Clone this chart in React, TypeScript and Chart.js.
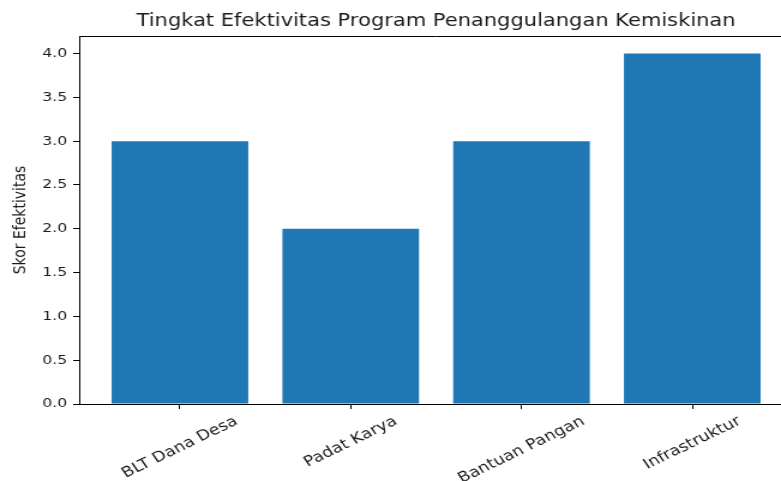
import React, { useEffect, useRef } from "react";
import { Chart, registerables } from "chart.js";

Chart.register(...registerables);

const TITLE = "Tingkat Efektivitas Program Penanggulangan Kemiskinan";
const Y_LABEL = "Skor Efektivitas";
const categories = ["BLT Dana Desa", "Padat Karya", "Bantuan Pangan", "Infrastruktur"];
const scores = [3, 2, 3, 4];
const yTicks = [0, 0.5, 1, 1.5, 2, 2.5, 3, 3.5, 4];

const INTERNAL_W = 666;
const CSS_W = 799;
const H = 481;
const TEXT = "#1a1a1a";
const FONT = "'DejaVu Sans', sans-serif";

const decorPlugin = {
  id: "decor",
  afterDraw(chart: any) {
    const { ctx, chartArea } = chart;
    const xs = chart.scales.x;
    ctx.save();
    // top and right spines
    ctx.strokeStyle = "#000";
    ctx.lineWidth = 1;
    ctx.beginPath();
    ctx.moveTo(chartArea.left, chartArea.top + 0.5);
    ctx.lineTo(chartArea.right, chartArea.top + 0.5);
    ctx.moveTo(chartArea.right - 0.5, chartArea.top);
    ctx.lineTo(chartArea.right - 0.5, chartArea.bottom);
    ctx.stroke();
    // title
    ctx.fillStyle = TEXT;
    ctx.font = `17.5px ${FONT}`;
    ctx.textAlign = "center";
    ctx.textBaseline = "alphabetic";
    ctx.fillText(TITLE, (chartArea.left + chartArea.right) / 2, 26);
    // x tick labels rotated 30deg, centered on tick
    const a = (30 * Math.PI) / 180;
    const fs = 14.5;
    ctx.font = `${fs}px ${FONT}`;
    ctx.textBaseline = "middle";
    categories.forEach((c, i) => {
      const w = ctx.measureText(c).width;
      const h = fs * 1.17;
      const bh = w * Math.sin(a) + h * Math.cos(a);
      const cx = xs.getPixelForValue(i);
      const cy = chartArea.bottom + 9 + bh / 2;
      ctx.save();
      ctx.translate(cx, cy);
      ctx.rotate(-a);
      ctx.fillText(c, 0, 0);
      ctx.restore();
    });
    ctx.restore();
  },
};

export default function App() {
  const ref = useRef<HTMLCanvasElement | null>(null);
  useEffect(() => {
    const canvas = ref.current!;
    const chart = new Chart(canvas, {
      type: "bar",
      data: {
        datasets: [
          {
            data: categories.map((_, i) => ({ x: i, y: scores[i] })),
            backgroundColor: "#1f77b4",
            borderWidth: 0,
            barPercentage: 0.8,
            categoryPercentage: 1.0,
          },
        ],
      },
      options: {
        responsive: false,
        animation: false,
        devicePixelRatio: 1,
        layout: { padding: { left: 0, top: 36, right: 5, bottom: 0 } },
        plugins: { legend: { display: false }, tooltip: { enabled: false }, title: { display: false } },
        scales: {
          x: {
            type: "linear",
            min: -0.59,
            max: 3.59,
            offset: false,
            afterBuildTicks: (s: any) => {
              s.ticks = categories.map((_, i) => ({ value: i }));
            },
            afterFit: (s: any) => {
              s.height = 77;
            },
            ticks: { display: false },
            grid: { offset: false, drawOnChartArea: false, drawTicks: true, tickLength: 5, color: "#000", tickColor: "#000" },
            border: { display: true, color: "#000", width: 1 },
          },
          y: {
            min: 0,
            max: 4.2,
            afterBuildTicks: (s: any) => {
              s.ticks = yTicks.map((v) => ({ value: v }));
            },
            afterFit: (s: any) => {
              s.width = 66;
            },
            ticks: {
              padding: 5,
              color: TEXT,
              font: { family: FONT, size: 13 },
              callback: (v: any) => Number(v).toFixed(1),
            },
            grid: { drawOnChartArea: false, drawTicks: true, tickLength: 5, color: "#000", tickColor: "#000" },
            border: { display: true, color: "#000", width: 1 },
            title: {
              display: true,
              text: Y_LABEL,
              color: TEXT,
              font: { family: FONT, size: 14 },
              padding: { top: 9, bottom: 0 },
            },
          },
        },
      },
      plugins: [decorPlugin],
    } as any);
    return () => chart.destroy();
  }, []);
  return (
    <div style={{ position: "absolute", left: 0, top: 0, width: 781, height: H, overflow: "hidden", background: "#fff" }}>
      <canvas
        ref={ref}
        width={INTERNAL_W}
        height={H}
        style={{ width: CSS_W + "px", height: H + "px", display: "block" }}
      />
    </div>
  );
}
